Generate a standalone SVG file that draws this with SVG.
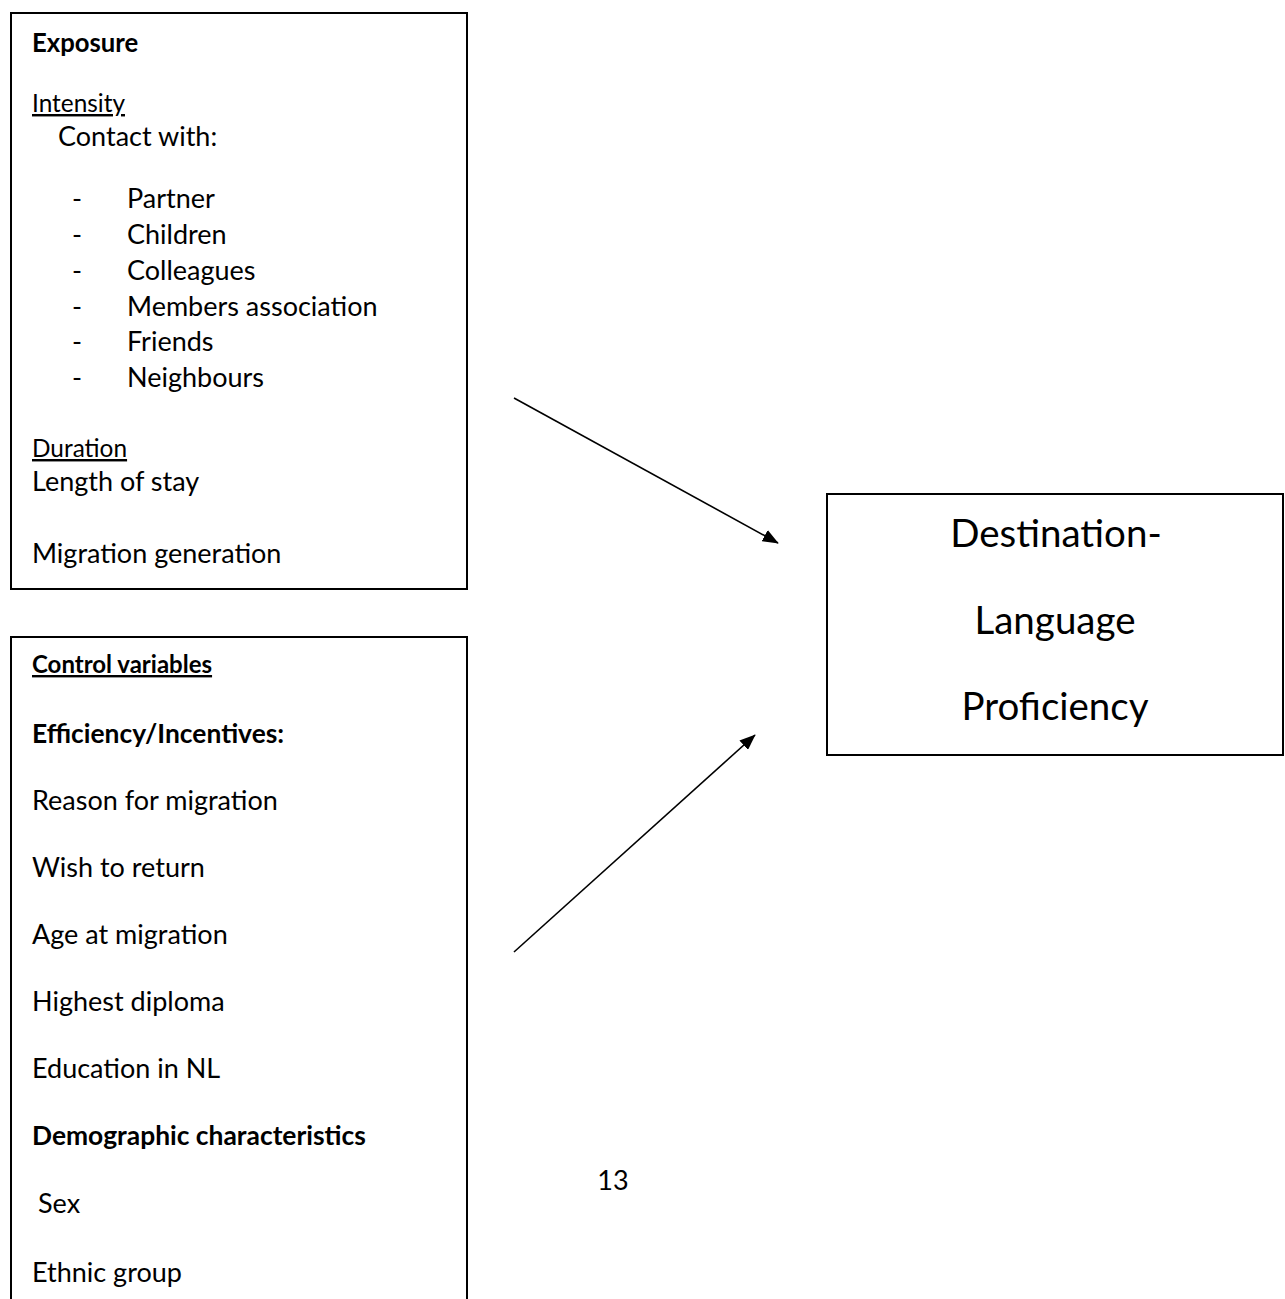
<svg xmlns="http://www.w3.org/2000/svg" width="1285" height="1299" viewBox="0 0 1285 1299">
<style>
text{font-family:Lato,"Open Sans","Liberation Sans",sans-serif;fill:#000}
.t{font-size:27px}
.h{font-size:24.4px;text-decoration:underline}
.b{font-weight:bold}
.u{text-decoration:underline}
.d{font-size:38.5px}
.box{fill:#fff;stroke:#000;stroke-width:2}
.con{stroke:#000;stroke-width:1.6;fill:none}
</style>
<defs>
<marker id="ah" markerWidth="10" markerHeight="8" refX="9.5" refY="4" orient="auto" markerUnits="strokeWidth">
<path d="M0,0 L10,4 L0,8 Z" fill="#000"/>
</marker>
</defs>
<rect width="1285" height="1299" fill="#fff"/>
<g id="exposure">
<rect class="box" x="11" y="13" width="456" height="576"/>
<text x="32" y="52" class="b" font-size="25.7">Exposure</text>
<text x="32" y="112" class="h">Intensity</text>
<text x="58" y="146" class="t">Contact with:</text>
<text x="72" y="208" class="t">-</text><text x="127" y="208" class="t">Partner</text>
<text x="72" y="244" class="t">-</text><text x="127" y="244" class="t">Children</text>
<text x="72" y="280" class="t">-</text><text x="127" y="280" class="t">Colleagues</text>
<text x="72" y="316" class="t">-</text><text x="127" y="316" class="t">Members association</text>
<text x="72" y="351" class="t">-</text><text x="127" y="351" class="t">Friends</text>
<text x="72" y="387" class="t">-</text><text x="127" y="387" class="t">Neighbours</text>
<text x="32" y="457" class="h">Duration</text>
<text x="32" y="491" class="t">Length of stay</text>
<text x="32" y="563" class="t">Migration generation</text>
</g>
<g id="control">
<path class="box" d="M11,1299 V637 H467 V1299"/>
<text x="32" y="673" class="b u" font-size="24">Control variables</text>
<text x="32" y="743" class="b" font-size="26.4">Efficiency/Incentives:</text>
<text x="32" y="810" class="t">Reason for migration</text>
<text x="32" y="877" class="t">Wish to return</text>
<text x="32" y="944" class="t">Age at migration</text>
<text x="32" y="1011" class="t">Highest diploma</text>
<text x="32" y="1078" class="t">Education in NL</text>
<text x="32" y="1145" class="b" font-size="26.4">Demographic characteristics</text>
<text x="38" y="1213" class="t">Sex</text>
<text x="32" y="1282" class="t">Ethnic group</text>
</g>
<g id="destination">
<rect class="box" x="827" y="494" width="456" height="261"/>
<text x="1056" y="547" class="d" text-anchor="middle">Destination-</text>
<text x="1055" y="634" class="d" text-anchor="middle">Language</text>
<text x="1055" y="720" class="d" text-anchor="middle">Proficiency</text>
</g>
<g id="page-number">
<text x="613" y="1190" class="t" text-anchor="middle">13</text>
</g>
<g id="connectors">
<line class="con" x1="514" y1="398" x2="778" y2="543" marker-end="url(#ah)"/>
<line class="con" x1="514" y1="952" x2="755" y2="735" marker-end="url(#ah)"/>
</g>
</svg>
